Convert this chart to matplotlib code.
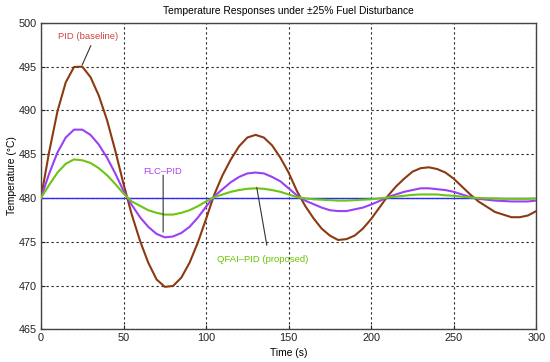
import matplotlib
matplotlib.use("Agg")
import matplotlib.pyplot as plt

plt.rcParams['font.family'] = ['Liberation Sans', 'DejaVu Sans']

time_s = list(range(0, 301, 5))

pid_baseline = [480.0, 485.3, 489.9, 493.2, 494.95, 495.0, 493.8, 491.7, 488.9, 485.4,
                481.6, 478.1, 475.1, 472.6, 470.7, 469.85, 469.95, 470.9, 472.6, 474.9,
                477.6, 480.4, 482.6, 484.4, 485.9, 486.9, 487.2, 486.9, 486.0, 484.6,
                482.9, 480.8, 479.1, 477.7, 476.5, 475.7, 475.2, 475.3, 475.7, 476.5,
                477.6, 478.9, 480.2, 481.3, 482.2, 483.0, 483.4, 483.5, 483.3, 482.9,
                482.2, 481.3, 480.4, 479.6, 479.0, 478.4, 478.1, 477.8, 477.8, 478.0,
                478.5]

flc_pid = [480.0, 482.8, 485.2, 486.9, 487.8, 487.8, 487.2, 486.1, 484.6, 482.8,
           480.8, 479.2, 477.8, 476.7, 475.9, 475.5, 475.6, 476.0, 476.7, 477.75,
           479.0, 480.2, 481.0, 481.8, 482.4, 482.8, 482.9, 482.8, 482.4, 481.9,
           481.1, 480.3, 479.7, 479.3, 478.9, 478.6, 478.5, 478.5, 478.7, 478.9,
           479.25, 479.65, 480.1, 480.4, 480.7, 480.9, 481.1, 481.1, 481.0, 480.9,
           480.7, 480.4, 480.1, 479.9, 479.8, 479.7, 479.65, 479.6, 479.6, 479.6,
           479.7]

qfai_pid = [480.0, 481.5, 482.9, 483.9, 484.4, 484.3, 484.0, 483.4, 482.6, 481.6,
            480.5, 479.6, 479.1, 478.6, 478.3, 478.1, 478.1, 478.3, 478.6, 479.05,
            479.6, 480.1, 480.4, 480.7, 480.9, 481.05, 481.1, 481.05, 480.9, 480.7,
            480.4, 480.1, 479.95, 479.85, 479.8, 479.75, 479.7, 479.7, 479.75, 479.8,
            479.85, 479.95, 480.05, 480.15, 480.25, 480.35, 480.4, 480.4, 480.4, 480.3,
            480.25, 480.15, 480.05, 480.0, 479.95, 479.95, 479.9, 479.9, 479.9, 479.9,
            479.95]

setpoint = 480
x_ticks = [0, 50, 100, 150, 200, 250, 300]
y_ticks = [465, 470, 475, 480, 485, 490, 495, 500]

fs = 7.4
afs = 6.8
fig = plt.figure(figsize=(5.5, 3.62), dpi=100)
ax = fig.add_axes([0.0745, 0.0903, 0.9005, 0.8467])

ax.axhline(setpoint, color='#2b2bff', lw=1.0, zorder=2)
ax.plot(time_s, pid_baseline, color='#8b3a12', lw=1.5, zorder=3)
ax.plot(time_s, flc_pid, color='#9a40f5', lw=1.5, zorder=3)
ax.plot(time_s, qfai_pid, color='#6cc413', lw=1.5, zorder=3)

ax.set_xlim(0, 300)
ax.set_ylim(465, 500)
ax.set_xticks(x_ticks)
ax.set_yticks(y_ticks)
ax.tick_params(direction='in', length=3, labelsize=fs + 0.4, colors='#222222', pad=3)
ax.grid(True, color='#222222', linestyle=(0, (2, 2.5)), lw=0.8)
for s in ax.spines.values():
    s.set_color('#444444')
    s.set_linewidth(1.0)

ax.set_title('Temperature Responses under \u00b125% Fuel Disturbance', fontsize=fs, pad=6)
ax.set_xlabel('Time (s)', fontsize=fs, labelpad=3)
ax.set_ylabel('Temperature (\u00b0C)', fontsize=fs)
ax.yaxis.set_label_coords(-0.048, 0.5)

line_style = dict(arrowstyle='-', color='#333333', lw=0.8, shrinkA=0, shrinkB=0)
ax.text(28.3, 498.4, 'PID (baseline)', color='#d04545', fontsize=afs, ha='center', va='center')
ax.annotate('', xy=(25, 495.2), xytext=(30.2, 497.4), arrowprops=line_style)
ax.text(74, 483.05, 'FLC\u2013PID', color='#b040f0', fontsize=afs, ha='center', va='center')
ax.annotate('', xy=(74, 476.1), xytext=(74, 482.6), arrowprops=line_style)
ax.text(134.2, 473.0, 'QFAI\u2013PID (proposed)', color='#66c400', fontsize=afs, ha='center', va='center')
ax.annotate('', xy=(130.7, 481.2), xytext=(136.8, 474.6), arrowprops=line_style)

fig.savefig('out.png', dpi=100)
